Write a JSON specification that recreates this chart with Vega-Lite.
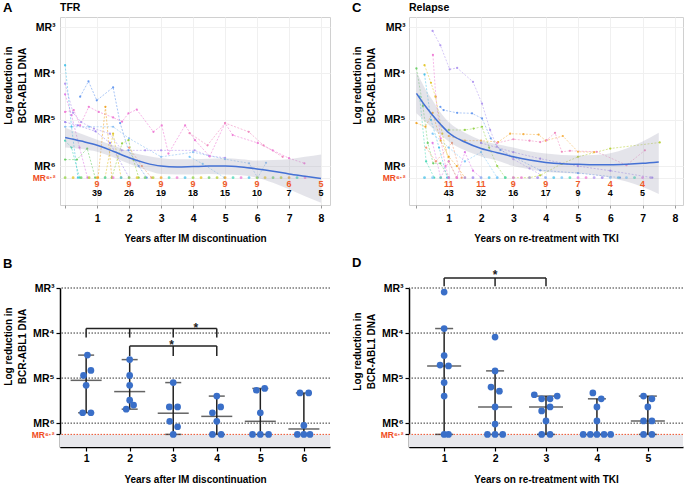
{
  "$schema": "https://vega.github.io/schema/vega-lite/v6.json",
  "padding": {"left": 2, "top": 1, "right": 0, "bottom": 0},
  "background": "white",
  "columns": 2,
  "spacing": {"row": 83, "column": 79},
  "bounds": "flush",
  "align": "each",
  "config": {
    "font": "Liberation Sans",
    "view": {"stroke": null},
    "axis": {"labelFont": "Liberation Sans", "labelFontWeight": "bold", "labelFontSize": 10.5, "labelColor": "black", "titleFont": "Liberation Sans", "titleFontWeight": "bold", "titleFontSize": 10, "titleColor": "black", "labelOverlap": false},
    "title": {"font": "Liberation Sans", "fontWeight": "bold", "fontSize": 13, "anchor": "start", "frame": "bounds", "color": "black", "baseline": "alphabetic"},
    "text": {"font": "Liberation Sans"}
  },
  "datasets": {
    "spagA": [
      {"pid": "p1", "x": 0, "y": 3.82}, {"pid": "p1", "x": 0.2, "y": 5.15}, {"pid": "p1", "x": 0.4, "y": 6.25},
      {"pid": "p2", "x": 0, "y": 4.22}, {"pid": "p2", "x": 0.25, "y": 4.85}, {"pid": "p2", "x": 0.5, "y": 5.05}, {"pid": "p2", "x": 0.9, "y": 5.19}, {"pid": "p2", "x": 1.4, "y": 5.3}, {"pid": "p2", "x": 1.77, "y": 5.66}, {"pid": "p2", "x": 2.5, "y": 5.66}, {"pid": "p2", "x": 3.0, "y": 5.66}, {"pid": "p2", "x": 4.05, "y": 5.66}, {"pid": "p2", "x": 4.5, "y": 5.78}, {"pid": "p2", "x": 5.0, "y": 5.82},
      {"pid": "p3", "x": 0.47, "y": 4.5}, {"pid": "p3", "x": 0.73, "y": 4.17}, {"pid": "p3", "x": 0.99, "y": 4.58}, {"pid": "p3", "x": 1.5, "y": 4.3}, {"pid": "p3", "x": 1.72, "y": 5.07}, {"pid": "p3", "x": 1.98, "y": 5.66}, {"pid": "p3", "x": 2.3, "y": 6.0}, {"pid": "p3", "x": 2.55, "y": 6.25},
      {"pid": "p4", "x": 0, "y": 5.15}, {"pid": "p4", "x": 0.75, "y": 5.15}, {"pid": "p4", "x": 1.5, "y": 5.15}, {"pid": "p4", "x": 2.0, "y": 5.4}, {"pid": "p4", "x": 3.0, "y": 5.8}, {"pid": "p4", "x": 4.0, "y": 5.7}, {"pid": "p4", "x": 5.0, "y": 5.85}, {"pid": "p4", "x": 5.75, "y": 5.94}, {"pid": "p4", "x": 6.02, "y": 6.25}, {"pid": "p4", "x": 6.28, "y": 5.93},
      {"pid": "p5", "x": 0, "y": 4.83}, {"pid": "p5", "x": 0.27, "y": 4.79}, {"pid": "p5", "x": 0.47, "y": 5.12}, {"pid": "p5", "x": 0.74, "y": 4.72}, {"pid": "p5", "x": 1.05, "y": 4.83}, {"pid": "p5", "x": 1.5, "y": 4.95}, {"pid": "p5", "x": 1.78, "y": 5.04}, {"pid": "p5", "x": 1.98, "y": 4.86}, {"pid": "p5", "x": 2.24, "y": 4.78}, {"pid": "p5", "x": 2.76, "y": 5.26}, {"pid": "p5", "x": 3.02, "y": 5.12}, {"pid": "p5", "x": 3.23, "y": 5.73}, {"pid": "p5", "x": 3.75, "y": 5.12}, {"pid": "p5", "x": 4.06, "y": 5.44}, {"pid": "p5", "x": 4.52, "y": 5.79}, {"pid": "p5", "x": 5.0, "y": 5.07}, {"pid": "p5", "x": 5.24, "y": 5.33}, {"pid": "p5", "x": 6.02, "y": 5.5}, {"pid": "p5", "x": 6.49, "y": 5.66}, {"pid": "p5", "x": 7.0, "y": 5.83}, {"pid": "p5", "x": 7.48, "y": 5.94},
      {"pid": "p6", "x": 3.89, "y": 5.29}, {"pid": "p6", "x": 4.45, "y": 5.55}, {"pid": "p6", "x": 5.0, "y": 5.07}, {"pid": "p6", "x": 5.74, "y": 5.26}, {"pid": "p6", "x": 6.2, "y": 5.55}, {"pid": "p6", "x": 6.8, "y": 5.8},
      {"pid": "p7", "x": 1.03, "y": 6.25}, {"pid": "p7", "x": 1.26, "y": 4.72}, {"pid": "p7", "x": 1.46, "y": 6.25},
      {"pid": "p8", "x": 1.25, "y": 6.25}, {"pid": "p8", "x": 1.5, "y": 5.3}, {"pid": "p8", "x": 1.75, "y": 6.25},
      {"pid": "p9", "x": 0, "y": 5.86}, {"pid": "p9", "x": 0.37, "y": 5.86}, {"pid": "p9", "x": 0.69, "y": 5.62}, {"pid": "p9", "x": 0.94, "y": 6.25},
      {"pid": "p10", "x": 1.46, "y": 6.25}, {"pid": "p10", "x": 1.78, "y": 5.51}, {"pid": "p10", "x": 1.98, "y": 5.44}, {"pid": "p10", "x": 2.14, "y": 5.87}, {"pid": "p10", "x": 2.3, "y": 6.25},
      {"pid": "p11", "x": 0, "y": 5.45}, {"pid": "p11", "x": 0.2, "y": 5.6}, {"pid": "p11", "x": 0.45, "y": 6.25},
      {"pid": "p12", "x": 0, "y": 5.05}, {"pid": "p12", "x": 0.4, "y": 5.12}, {"pid": "p12", "x": 0.95, "y": 5.25}, {"pid": "p12", "x": 1.4, "y": 5.5}, {"pid": "p12", "x": 2.0, "y": 6.25},
      {"pid": "p13", "x": 0, "y": 4.45}, {"pid": "p13", "x": 0.2, "y": 4.9}, {"pid": "p13", "x": 0.45, "y": 5.6}, {"pid": "p13", "x": 0.7, "y": 6.25},
      {"pid": "p14", "x": 2.0, "y": 5.6}, {"pid": "p14", "x": 2.4, "y": 6.0}, {"pid": "p14", "x": 2.7, "y": 6.25},
      {"pid": "p15", "x": 3.89, "y": 5.8}, {"pid": "p15", "x": 4.3, "y": 5.95}, {"pid": "p15", "x": 4.98, "y": 6.25}
    ],
    "baseA": [
      {"pid": "p10", "x": 0}, {"pid": "p8", "x": 0.25}, {"pid": "p9", "x": 0.5}, {"pid": "p16", "x": 0.75}, {"pid": "p7", "x": 1}, {"pid": "p11", "x": 1.25}, {"pid": "p5", "x": 1.5}, {"pid": "p1", "x": 1.75},
      {"pid": "p10", "x": 2}, {"pid": "p8", "x": 2.25}, {"pid": "p9", "x": 2.5}, {"pid": "p16", "x": 2.75}, {"pid": "p7", "x": 3}, {"pid": "p11", "x": 3.25}, {"pid": "p5", "x": 3.5}, {"pid": "p1", "x": 3.75},
      {"pid": "p10", "x": 4}, {"pid": "p8", "x": 4.25}, {"pid": "p9", "x": 4.5}, {"pid": "p16", "x": 4.75}, {"pid": "p7", "x": 5}, {"pid": "p11", "x": 5.25}, {"pid": "p5", "x": 5.5}, {"pid": "p1", "x": 5.75},
      {"pid": "p10", "x": 6}, {"pid": "p8", "x": 6.25}, {"pid": "p9", "x": 6.5}, {"pid": "p16", "x": 6.75}, {"pid": "p7", "x": 7}, {"pid": "p11", "x": 7.25}, {"pid": "p5", "x": 7.5}
    ],
    "loessA": [
      {"x": 0, "fit": 5.38, "lo": 5.17, "hi": 5.6}, {"x": 0.5, "fit": 5.46, "lo": 5.3, "hi": 5.63}, {"x": 1, "fit": 5.55, "lo": 5.43, "hi": 5.69}, {"x": 1.5, "fit": 5.68, "lo": 5.55, "hi": 5.81}, {"x": 2, "fit": 5.82, "lo": 5.69, "hi": 5.95}, {"x": 2.5, "fit": 5.93, "lo": 5.77, "hi": 6.08}, {"x": 3, "fit": 6.0, "lo": 5.83, "hi": 6.17}, {"x": 3.5, "fit": 6.02, "lo": 5.85, "hi": 6.18}, {"x": 4, "fit": 6.01, "lo": 5.85, "hi": 6.18}, {"x": 4.5, "fit": 6.0, "lo": 5.84, "hi": 6.17}, {"x": 5, "fit": 6.0, "lo": 5.83, "hi": 6.18}, {"x": 5.5, "fit": 6.02, "lo": 5.85, "hi": 6.2}, {"x": 6, "fit": 6.06, "lo": 5.88, "hi": 6.25}, {"x": 6.5, "fit": 6.11, "lo": 5.87, "hi": 6.36}, {"x": 7, "fit": 6.17, "lo": 5.85, "hi": 6.5}, {"x": 7.5, "fit": 6.22, "lo": 5.8, "hi": 6.65}, {"x": 8, "fit": 6.27, "lo": 5.75, "hi": 6.79}
    ],
    "countsA": [
      {"year": 1, "events": 9, "n": 39}, {"year": 2, "events": 9, "n": 26}, {"year": 3, "events": 9, "n": 19}, {"year": 4, "events": 9, "n": 18}, {"year": 5, "events": 9, "n": 15}, {"year": 6, "events": 9, "n": 10}, {"year": 7, "events": 6, "n": 7}, {"year": 8, "events": 5, "n": 5}
    ],
    "spagC": [
      {"pid": "p2", "x": 0.5, "y": 3.08}, {"pid": "p2", "x": 0.74, "y": 3.39}, {"pid": "p2", "x": 1.03, "y": 3.91}, {"pid": "p2", "x": 1.26, "y": 3.88}, {"pid": "p2", "x": 1.75, "y": 4.18}, {"pid": "p2", "x": 2.03, "y": 4.65}, {"pid": "p2", "x": 2.28, "y": 5.22}, {"pid": "p2", "x": 2.49, "y": 5.58}, {"pid": "p2", "x": 3.0, "y": 5.85}, {"pid": "p2", "x": 3.5, "y": 6.05}, {"pid": "p2", "x": 4.0, "y": 6.25},
      {"pid": "p5", "x": 0.51, "y": 3.6}, {"pid": "p5", "x": 0.6, "y": 4.5}, {"pid": "p5", "x": 0.75, "y": 5.4}, {"pid": "p5", "x": 0.9, "y": 6.0}, {"pid": "p5", "x": 1.0, "y": 6.25},
      {"pid": "p9", "x": 0, "y": 3.89}, {"pid": "p9", "x": 0.2, "y": 4.7}, {"pid": "p9", "x": 0.35, "y": 5.5}, {"pid": "p9", "x": 0.52, "y": 5.94}, {"pid": "p9", "x": 0.74, "y": 5.94}, {"pid": "p9", "x": 1.0, "y": 6.25},
      {"pid": "p8", "x": 0.25, "y": 3.82}, {"pid": "p8", "x": 0.45, "y": 4.2}, {"pid": "p8", "x": 0.59, "y": 4.5}, {"pid": "p8", "x": 0.8, "y": 5.3}, {"pid": "p8", "x": 1.0, "y": 5.9}, {"pid": "p8", "x": 1.25, "y": 6.25},
      {"pid": "p1", "x": 0.25, "y": 4.02}, {"pid": "p1", "x": 0.45, "y": 5.0}, {"pid": "p1", "x": 0.7, "y": 5.6}, {"pid": "p1", "x": 0.95, "y": 6.25},
      {"pid": "p7", "x": 0, "y": 5.07}, {"pid": "p7", "x": 0.28, "y": 5.15}, {"pid": "p7", "x": 0.5, "y": 4.85}, {"pid": "p7", "x": 0.75, "y": 5.45}, {"pid": "p7", "x": 1.0, "y": 5.8}, {"pid": "p7", "x": 1.25, "y": 6.0}, {"pid": "p7", "x": 1.5, "y": 6.25},
      {"pid": "p3", "x": 0.74, "y": 4.72}, {"pid": "p3", "x": 0.84, "y": 4.79}, {"pid": "p3", "x": 1.26, "y": 4.85}, {"pid": "p3", "x": 1.72, "y": 4.86}, {"pid": "p3", "x": 2.03, "y": 4.97}, {"pid": "p3", "x": 2.3, "y": 5.4}, {"pid": "p3", "x": 2.6, "y": 5.65}, {"pid": "p3", "x": 3.0, "y": 5.8}, {"pid": "p3", "x": 3.83, "y": 6.09}, {"pid": "p3", "x": 5.0, "y": 6.15}, {"pid": "p3", "x": 6.3, "y": 6.25},
      {"pid": "p10", "x": 1.0, "y": 5.22}, {"pid": "p10", "x": 1.5, "y": 5.22}, {"pid": "p10", "x": 1.77, "y": 5.19}, {"pid": "p10", "x": 2.03, "y": 5.15}, {"pid": "p10", "x": 2.25, "y": 5.6}, {"pid": "p10", "x": 2.5, "y": 6.0}, {"pid": "p10", "x": 2.75, "y": 6.25},
      {"pid": "p17", "x": 1.0, "y": 5.35}, {"pid": "p17", "x": 1.5, "y": 5.45}, {"pid": "p17", "x": 2.0, "y": 5.45}, {"pid": "p17", "x": 2.53, "y": 5.48}, {"pid": "p17", "x": 2.9, "y": 5.3}, {"pid": "p17", "x": 3.31, "y": 5.31}, {"pid": "p17", "x": 3.78, "y": 5.32}, {"pid": "p17", "x": 4.0, "y": 5.45}, {"pid": "p17", "x": 4.53, "y": 5.35}, {"pid": "p17", "x": 5.0, "y": 5.69}, {"pid": "p17", "x": 5.5, "y": 5.7},
      {"pid": "p6", "x": 2.5, "y": 5.5}, {"pid": "p6", "x": 3.0, "y": 5.42}, {"pid": "p6", "x": 3.5, "y": 5.45}, {"pid": "p6", "x": 3.83, "y": 5.48}, {"pid": "p6", "x": 4.03, "y": 5.44}, {"pid": "p6", "x": 4.29, "y": 5.28}, {"pid": "p6", "x": 4.5, "y": 5.69}, {"pid": "p6", "x": 4.75, "y": 5.67}, {"pid": "p6", "x": 5.58, "y": 5.69}, {"pid": "p6", "x": 6.5, "y": 5.98}, {"pid": "p6", "x": 7.07, "y": 5.66},
      {"pid": "p16", "x": 3.0, "y": 6.25}, {"pid": "p16", "x": 3.5, "y": 6.25}, {"pid": "p16", "x": 3.83, "y": 6.2}, {"pid": "p16", "x": 4.5, "y": 5.95}, {"pid": "p16", "x": 5.0, "y": 5.8}, {"pid": "p16", "x": 6.0, "y": 5.62}, {"pid": "p16", "x": 7.53, "y": 5.49},
      {"pid": "p12", "x": 2.0, "y": 5.5}, {"pid": "p12", "x": 3.0, "y": 5.7}, {"pid": "p12", "x": 3.83, "y": 5.84}, {"pid": "p12", "x": 5.0, "y": 6.0}, {"pid": "p12", "x": 6.0, "y": 6.1}, {"pid": "p12", "x": 7.3, "y": 6.25},
      {"pid": "p13", "x": 0.5, "y": 5.5}, {"pid": "p13", "x": 0.75, "y": 6.25}, {"pid": "p13", "x": 1.0, "y": 5.9}, {"pid": "p13", "x": 1.25, "y": 6.25}, {"pid": "p13", "x": 1.5, "y": 5.7}, {"pid": "p13", "x": 1.75, "y": 6.1}, {"pid": "p13", "x": 2.0, "y": 6.25},
      {"pid": "p11", "x": 0.1, "y": 4.5}, {"pid": "p11", "x": 0.3, "y": 5.9}, {"pid": "p11", "x": 0.55, "y": 6.25},
      {"pid": "p15", "x": 0.5, "y": 5.3}, {"pid": "p15", "x": 1.0, "y": 5.6}, {"pid": "p15", "x": 1.5, "y": 5.9}, {"pid": "p15", "x": 2.0, "y": 5.7}, {"pid": "p15", "x": 2.5, "y": 6.25},
      {"pid": "p14", "x": 0.3, "y": 5.6}, {"pid": "p14", "x": 0.6, "y": 5.9}, {"pid": "p14", "x": 1.1, "y": 5.5}, {"pid": "p14", "x": 1.4, "y": 6.25}
    ],
    "baseC": [
      {"pid": "p1", "x": 0.25}, {"pid": "p15", "x": 0.5}, {"pid": "p11", "x": 0.75}, {"pid": "p13", "x": 1}, {"pid": "p5", "x": 1.25}, {"pid": "p2", "x": 1.5}, {"pid": "p12", "x": 1.75}, {"pid": "p4", "x": 2},
      {"pid": "p1", "x": 2.25}, {"pid": "p15", "x": 2.5}, {"pid": "p11", "x": 2.75}, {"pid": "p13", "x": 3}, {"pid": "p5", "x": 3.25}, {"pid": "p2", "x": 3.5}, {"pid": "p12", "x": 3.75}, {"pid": "p4", "x": 4},
      {"pid": "p1", "x": 4.25}, {"pid": "p15", "x": 4.5}, {"pid": "p11", "x": 4.75}, {"pid": "p13", "x": 5}, {"pid": "p5", "x": 5.25}, {"pid": "p2", "x": 5.5}, {"pid": "p12", "x": 5.75}, {"pid": "p4", "x": 6},
      {"pid": "p1", "x": 6.25}, {"pid": "p15", "x": 6.5}, {"pid": "p11", "x": 6.75}, {"pid": "p13", "x": 7}, {"pid": "p2", "x": 7.25}
    ],
    "loessC": [
      {"x": 0, "fit": 4.43, "lo": 3.97, "hi": 4.86}, {"x": 0.25, "fit": 4.68, "lo": 4.3, "hi": 5.02}, {"x": 0.5, "fit": 4.9, "lo": 4.58, "hi": 5.18}, {"x": 0.75, "fit": 5.1, "lo": 4.85, "hi": 5.33}, {"x": 1, "fit": 5.28, "lo": 5.05, "hi": 5.47}, {"x": 1.5, "fit": 5.48, "lo": 5.28, "hi": 5.66}, {"x": 2, "fit": 5.62, "lo": 5.44, "hi": 5.79}, {"x": 2.5, "fit": 5.71, "lo": 5.53, "hi": 5.88}, {"x": 3, "fit": 5.8, "lo": 5.6, "hi": 6.0}, {"x": 3.5, "fit": 5.87, "lo": 5.68, "hi": 6.07}, {"x": 4, "fit": 5.92, "lo": 5.73, "hi": 6.13}, {"x": 4.5, "fit": 5.95, "lo": 5.76, "hi": 6.15}, {"x": 5, "fit": 5.96, "lo": 5.77, "hi": 6.16}, {"x": 5.5, "fit": 5.97, "lo": 5.76, "hi": 6.19}, {"x": 6, "fit": 5.97, "lo": 5.72, "hi": 6.25}, {"x": 6.5, "fit": 5.96, "lo": 5.62, "hi": 6.33}, {"x": 7, "fit": 5.94, "lo": 5.47, "hi": 6.45}, {"x": 7.5, "fit": 5.91, "lo": 5.28, "hi": 6.6}
    ],
    "countsC": [
      {"year": 1, "events": 11, "n": 43}, {"year": 2, "events": 11, "n": 32}, {"year": 3, "events": 9, "n": 16}, {"year": 4, "events": 9, "n": 17}, {"year": 5, "events": 7, "n": 9}, {"year": 6, "events": 4, "n": 4}, {"year": 7, "events": 4, "n": 5}
    ],
    "levels": [{"mr": 3}, {"mr": 4}, {"mr": 5}, {"mr": 6}],
    "ptsB": [
      {"year": 1, "x": 1.03, "mr": 4.49}, {"year": 1, "x": 1.11, "mr": 4.83}, {"year": 1, "x": 0.94, "mr": 4.94}, {"year": 1, "x": 1.0, "mr": 5.16}, {"year": 1, "x": 0.92, "mr": 5.77}, {"year": 1, "x": 1.11, "mr": 5.77},
      {"year": 2, "x": 2.0, "mr": 4.59}, {"year": 2, "x": 2.0, "mr": 4.94}, {"year": 2, "x": 2.0, "mr": 5.16}, {"year": 2, "x": 2.0, "mr": 5.49}, {"year": 2, "x": 2.09, "mr": 5.6}, {"year": 2, "x": 1.92, "mr": 5.69},
      {"year": 3, "x": 3.0, "mr": 5.1}, {"year": 3, "x": 2.91, "mr": 5.64}, {"year": 3, "x": 3.1, "mr": 5.64}, {"year": 3, "x": 2.92, "mr": 5.96}, {"year": 3, "x": 3.1, "mr": 6.08}, {"year": 3, "x": 3.0, "mr": 6.25},
      {"year": 4, "x": 4.0, "mr": 5.4}, {"year": 4, "x": 4.09, "mr": 5.64}, {"year": 4, "x": 3.9, "mr": 5.77}, {"year": 4, "x": 4.0, "mr": 5.96}, {"year": 4, "x": 3.9, "mr": 6.25}, {"year": 4, "x": 4.1, "mr": 6.25},
      {"year": 5, "x": 4.91, "mr": 5.27}, {"year": 5, "x": 5.1, "mr": 5.23}, {"year": 5, "x": 5.0, "mr": 5.77}, {"year": 5, "x": 4.82, "mr": 6.25}, {"year": 5, "x": 5.0, "mr": 6.25}, {"year": 5, "x": 5.19, "mr": 6.25},
      {"year": 6, "x": 5.91, "mr": 5.33}, {"year": 6, "x": 6.11, "mr": 5.33}, {"year": 6, "x": 6.0, "mr": 6.05}, {"year": 6, "x": 5.85, "mr": 6.25}, {"year": 6, "x": 6.0, "mr": 6.25}, {"year": 6, "x": 6.14, "mr": 6.25}
    ],
    "errB": [
      {"year": 1, "hi": 4.49, "lo": 5.77, "med": 5.05}, {"year": 2, "hi": 4.59, "lo": 5.69, "med": 5.3}, {"year": 3, "hi": 5.1, "lo": 6.25, "med": 5.78}, {"year": 4, "hi": 5.4, "lo": 6.25, "med": 5.85}, {"year": 5, "hi": 5.23, "lo": 6.25, "med": 5.96}, {"year": 6, "hi": 5.33, "lo": 6.25, "med": 6.13}
    ],
    "bracketB": [
      {"x": 1, "x2": 4, "y": 3.9, "y2": 3.9}, {"x": 1, "x2": 1, "y": 3.9, "y2": 4.1}, {"x": 2, "x2": 2, "y": 3.9, "y2": 4.1}, {"x": 3, "x2": 3, "y": 3.9, "y2": 4.1}, {"x": 4, "x2": 4, "y": 3.9, "y2": 4.1},
      {"x": 2, "x2": 4, "y": 4.29, "y2": 4.29}, {"x": 2, "x2": 2, "y": 4.29, "y2": 4.51}, {"x": 3, "x2": 3, "y": 4.29, "y2": 4.51}, {"x": 4, "x2": 4, "y": 4.29, "y2": 4.51}
    ],
    "starsB": [{"x": 3.52, "y": 3.97, "s": "*"}, {"x": 2.96, "y": 4.35, "s": "*"}],
    "ptsD": [
      {"year": 1, "x": 1.0, "mr": 3.09}, {"year": 1, "x": 1.0, "mr": 3.9}, {"year": 1, "x": 1.0, "mr": 4.5}, {"year": 1, "x": 0.92, "mr": 4.71}, {"year": 1, "x": 1.085, "mr": 4.73}, {"year": 1, "x": 1.0, "mr": 5.1}, {"year": 1, "x": 1.0, "mr": 5.4}, {"year": 1, "x": 1.0, "mr": 6.25}, {"year": 1, "x": 1.085, "mr": 6.25},
      {"year": 2, "x": 2.0, "mr": 4.09}, {"year": 2, "x": 2.0, "mr": 4.84}, {"year": 2, "x": 1.92, "mr": 5.2}, {"year": 2, "x": 2.085, "mr": 5.29}, {"year": 2, "x": 2.0, "mr": 5.64}, {"year": 2, "x": 2.0, "mr": 6.02}, {"year": 2, "x": 1.85, "mr": 6.25}, {"year": 2, "x": 2.0, "mr": 6.25}, {"year": 2, "x": 2.15, "mr": 6.25},
      {"year": 3, "x": 2.77, "mr": 5.37}, {"year": 3, "x": 3.22, "mr": 5.4}, {"year": 3, "x": 2.915, "mr": 5.46}, {"year": 3, "x": 3.08, "mr": 5.46}, {"year": 3, "x": 3.08, "mr": 5.64}, {"year": 3, "x": 2.915, "mr": 5.73}, {"year": 3, "x": 3.0, "mr": 5.95}, {"year": 3, "x": 2.915, "mr": 6.25}, {"year": 3, "x": 3.08, "mr": 6.25},
      {"year": 4, "x": 3.92, "mr": 5.33}, {"year": 4, "x": 4.085, "mr": 5.46}, {"year": 4, "x": 4.0, "mr": 5.64}, {"year": 4, "x": 4.0, "mr": 5.95}, {"year": 4, "x": 3.73, "mr": 6.25}, {"year": 4, "x": 3.87, "mr": 6.25}, {"year": 4, "x": 4.0, "mr": 6.25}, {"year": 4, "x": 4.14, "mr": 6.25}, {"year": 4, "x": 4.27, "mr": 6.25},
      {"year": 5, "x": 4.915, "mr": 5.4}, {"year": 5, "x": 5.08, "mr": 5.46}, {"year": 5, "x": 5.0, "mr": 5.64}, {"year": 5, "x": 4.915, "mr": 5.95}, {"year": 5, "x": 5.08, "mr": 5.95}, {"year": 5, "x": 4.915, "mr": 6.25}, {"year": 5, "x": 5.08, "mr": 6.25}
    ],
    "errD": [
      {"year": 1, "hi": 3.9, "lo": 6.25, "med": 4.73}, {"year": 2, "hi": 4.84, "lo": 6.25, "med": 5.64}, {"year": 3, "hi": 5.4, "lo": 6.25, "med": 5.64}, {"year": 4, "hi": 5.46, "lo": 6.25, "med": 6.25}, {"year": 5, "hi": 5.4, "lo": 6.25, "med": 5.95}
    ],
    "bracketD": [
      {"x": 1, "x2": 3, "y": 2.78, "y2": 2.78}, {"x": 1, "x2": 1, "y": 2.78, "y2": 2.96}, {"x": 2, "x2": 2, "y": 2.78, "y2": 2.96}, {"x": 3, "x2": 3, "y": 2.78, "y2": 2.96}
    ],
    "starsD": [{"x": 2, "y": 2.8, "s": "*"}]
  },
  "concat": [
    {
      "width": 270, "height": 188,
      "view": {"stroke": "#d0d0d0"},
      "title": {"text": "A", "offset": -12.5},
      "layer": [
        {
          "data": {"name": "spagA"},
          "mark": {"type": "line", "strokeDash": [2, 1.5], "strokeWidth": 0.9, "opacity": 0.65, "point": {"filled": true, "size": 5}},
          "encoding": {
            "x": {"field": "x", "type": "quantitative", "scale": {"domain": [-0.16, 8.28], "nice": false, "zero": false},
              "axis": {"values": [0, 1, 2, 3, 4, 5, 6, 7, 8], "tickCount": 20, "format": "d", "labelExpr": "datum.value == 0 ? '' : datum.label", "labelOverlap": false, "labelFlush": false, "tickSize": 3, "tickColor": "#999999", "labelPadding": 5, "domain": false, "grid": true, "gridColor": "#f0f0f0", "title": "Years after IM discontinuation", "titlePadding": 10}},
            "y": {"field": "y", "type": "quantitative", "scale": {"domain": [2.78, 6.84], "nice": false, "zero": false, "reverse": true},
              "axis": {"values": [3, 4, 5, 6, 6.25], "tickCount": 20, "labelExpr": "datum.value == 3 ? 'MR³' : datum.value == 4 ? 'MR⁴' : datum.value == 5 ? 'MR⁵' : datum.value == 6 ? 'MR⁶' : 'MR⁶·²'", "labelColor": {"condition": {"test": "datum.value > 6.1", "value": "#f04e23"}, "value": "black"}, "labelFontSize": {"condition": {"test": "datum.value > 6.1", "value": 8.5}, "value": 10.5}, "labelOverlap": false, "labelPadding": 5, "ticks": false, "domain": false, "grid": true, "gridColor": "#f0f0f0", "minExtent": 28, "maxExtent": 28, "title": ["Log reduction in", "BCR-ABL1 DNA"], "titlePadding": 5, "titleY": 68, "titleLineHeight": 14}},
            "color": {"field": "pid", "type": "nominal", "scale": {"domain": ["p1", "p2", "p3", "p4", "p5", "p6", "p7", "p8", "p9", "p10", "p11", "p12", "p13", "p14", "p15", "p16", "p17"], "range": ["#4fc3e8", "#b39af0", "#6a9cf0", "#8cc0f2", "#ef7fd6", "#f08cc0", "#f0a830", "#e3c730", "#6fcf6a", "#97d44e", "#4fd9b8", "#9f86ee", "#df7fe6", "#f29a78", "#7fc8f8", "#b8d03a", "#f5b24a"]}, "legend": null}
          }
        },
        {
          "data": {"name": "baseA"},
          "mark": {"type": "circle", "size": 8, "opacity": 0.8},
          "encoding": {"x": {"field": "x", "type": "quantitative"}, "y": {"datum": 6.25}, "color": {"field": "pid", "type": "nominal", "legend": null}}
        },
        {
          "data": {"name": "loessA"},
          "mark": {"type": "area", "color": "#a4a4b8", "opacity": 0.3, "interpolate": "monotone"},
          "encoding": {"x": {"field": "x", "type": "quantitative"}, "y": {"field": "lo", "type": "quantitative"}, "y2": {"field": "hi"}}
        },
        {
          "data": {"name": "loessA"},
          "mark": {"type": "line", "color": "#4471d4", "strokeWidth": 1.5, "interpolate": "monotone"},
          "encoding": {"x": {"field": "x", "type": "quantitative"}, "y": {"field": "fit", "type": "quantitative"}}
        },
        {
          "data": {"name": "countsA"},
          "mark": {"type": "text", "fontSize": 9, "fontWeight": "bold", "color": "#f05a28"},
          "encoding": {"x": {"field": "year", "type": "quantitative"}, "y": {"datum": 6.38}, "text": {"field": "events"}}
        },
        {
          "data": {"name": "countsA"},
          "mark": {"type": "text", "fontSize": 9, "fontWeight": "bold", "color": "black"},
          "encoding": {"x": {"field": "year", "type": "quantitative"}, "y": {"datum": 6.59}, "text": {"field": "n"}}
        },
        {
          "data": {"values": [{"t": "TFR"}]},
          "mark": {"type": "text", "fontSize": 10.5, "fontWeight": "bold", "align": "left", "baseline": "alphabetic", "color": "black"},
          "encoding": {"x": {"datum": -0.16}, "y": {"datum": 2.648}, "text": {"field": "t"}}
        }
      ]
    },
    {
      "width": 274, "height": 188,
      "view": {"stroke": "#d0d0d0"},
      "title": {"text": "C", "offset": -12.5},
      "layer": [
        {
          "data": {"name": "spagC"},
          "mark": {"type": "line", "strokeDash": [2, 1.5], "strokeWidth": 0.9, "opacity": 0.6, "point": {"filled": true, "size": 5}},
          "encoding": {
            "x": {"field": "x", "type": "quantitative", "scale": {"domain": [-0.23, 8.25], "nice": false, "zero": false},
              "axis": {"values": [0, 1, 2, 3, 4, 5, 6, 7, 8], "tickCount": 20, "format": "d", "labelExpr": "datum.value == 0 ? '' : datum.label", "labelOverlap": false, "labelFlush": false, "tickSize": 3, "tickColor": "#999999", "labelPadding": 5, "domain": false, "grid": true, "gridColor": "#f0f0f0", "title": "Years on re-treatment  with TKI", "titlePadding": 10}},
            "y": {"field": "y", "type": "quantitative", "scale": {"domain": [2.78, 6.84], "nice": false, "zero": false, "reverse": true},
              "axis": {"values": [3, 4, 5, 6, 6.25], "tickCount": 20, "labelExpr": "datum.value == 3 ? 'MR³' : datum.value == 4 ? 'MR⁴' : datum.value == 5 ? 'MR⁵' : datum.value == 6 ? 'MR⁶' : 'MR⁶·²'", "labelColor": {"condition": {"test": "datum.value > 6.1", "value": "#f04e23"}, "value": "black"}, "labelFontSize": {"condition": {"test": "datum.value > 6.1", "value": 8.5}, "value": 10.5}, "labelOverlap": false, "labelPadding": 4, "ticks": false, "domain": false, "grid": true, "gridColor": "#f0f0f0", "minExtent": 28, "maxExtent": 28, "title": ["Log reduction in", "BCR-ABL1 DNA"], "titlePadding": 5, "titleY": 68, "titleLineHeight": 14}},
            "color": {"field": "pid", "type": "nominal", "scale": {"domain": ["p1", "p2", "p3", "p4", "p5", "p6", "p7", "p8", "p9", "p10", "p11", "p12", "p13", "p14", "p15", "p16", "p17"], "range": ["#4fc3e8", "#b39af0", "#6a9cf0", "#8cc0f2", "#ef7fd6", "#f08cc0", "#f0a830", "#e3c730", "#6fcf6a", "#97d44e", "#4fd9b8", "#9f86ee", "#df7fe6", "#f29a78", "#7fc8f8", "#b8d03a", "#f5b24a"]}, "legend": null}
          }
        },
        {
          "data": {"name": "baseC"},
          "mark": {"type": "circle", "size": 8, "opacity": 0.8},
          "encoding": {"x": {"field": "x", "type": "quantitative"}, "y": {"datum": 6.25}, "color": {"field": "pid", "type": "nominal", "legend": null}}
        },
        {
          "data": {"name": "loessC"},
          "mark": {"type": "area", "color": "#a4a4b8", "opacity": 0.3, "interpolate": "monotone"},
          "encoding": {"x": {"field": "x", "type": "quantitative"}, "y": {"field": "lo", "type": "quantitative"}, "y2": {"field": "hi"}}
        },
        {
          "data": {"name": "loessC"},
          "mark": {"type": "line", "color": "#4471d4", "strokeWidth": 1.5, "interpolate": "monotone"},
          "encoding": {"x": {"field": "x", "type": "quantitative"}, "y": {"field": "fit", "type": "quantitative"}}
        },
        {
          "data": {"name": "countsC"},
          "mark": {"type": "text", "fontSize": 9, "fontWeight": "bold", "color": "#f05a28"},
          "encoding": {"x": {"field": "year", "type": "quantitative"}, "y": {"datum": 6.38}, "text": {"field": "events"}}
        },
        {
          "data": {"name": "countsC"},
          "mark": {"type": "text", "fontSize": 9, "fontWeight": "bold", "color": "black"},
          "encoding": {"x": {"field": "year", "type": "quantitative"}, "y": {"datum": 6.59}, "text": {"field": "n"}}
        },
        {
          "data": {"values": [{"t": "Relapse"}]},
          "mark": {"type": "text", "fontSize": 10.5, "fontWeight": "bold", "align": "left", "baseline": "alphabetic", "color": "black"},
          "encoding": {"x": {"datum": -0.23}, "y": {"datum": 2.648}, "text": {"field": "t"}}
        }
      ]
    },
    {
      "width": 270, "height": 159,
      "title": {"text": "B", "offset": 12},
      "layer": [
        {
          "data": {"values": [{}]},
          "mark": {"type": "rect", "color": "#e8e8ec"},
          "encoding": {"x": {"datum": 0.4}, "x2": {"datum": 6.6}, "y": {"datum": 6.25}, "y2": {"datum": 6.53}}
        },
        {
          "data": {"name": "levels"},
          "mark": {"type": "rule", "strokeDash": [1.5, 1.5], "color": "#333333", "strokeWidth": 1},
          "encoding": {"y": {"field": "mr", "type": "quantitative", "scale": {"domain": [3, 6.53], "nice": false, "zero": false, "reverse": true},
              "axis": {"values": [3, 4, 5, 6, 6.25], "tickCount": 20, "labelExpr": "datum.value == 3 ? 'MR³' : datum.value == 4 ? 'MR⁴' : datum.value == 5 ? 'MR⁵' : datum.value == 6 ? 'MR⁶' : 'MR⁶·²'", "labelColor": {"condition": {"test": "datum.value > 6.1", "value": "#f04e23"}, "value": "black"}, "labelFontSize": {"condition": {"test": "datum.value > 6.1", "value": 8.5}, "value": 10.5}, "labelOverlap": false, "labelPadding": 2, "ticks": true, "tickSize": 4, "tickColor": "black", "tickWidth": 1.2, "domainColor": "black", "domainWidth": 1.5, "grid": false, "minExtent": 28, "maxExtent": 28, "title": ["Log reduction in", "BCR-ABL1 DNA"], "titlePadding": 5, "titleY": 58, "titleLineHeight": 14}}}
        },
        {
          "data": {"values": [{}]},
          "mark": {"type": "rule", "strokeDash": [1.5, 1.5], "color": "#f0502a", "strokeWidth": 1},
          "encoding": {"y": {"datum": 6.25}}
        },
        {
          "data": {"name": "errB"},
          "mark": {"type": "rule", "color": "#222222", "strokeWidth": 1.5},
          "encoding": {"x": {"field": "year", "type": "quantitative", "scale": {"domain": [0.4, 6.6], "nice": false, "zero": false},
              "axis": {"values": [1, 2, 3, 4, 5, 6], "tickCount": 20, "format": "d", "labelOverlap": false, "labelFlush": false, "tickSize": 4, "tickColor": "black", "tickWidth": 1.2, "domainColor": "black", "domainWidth": 1.5, "labelPadding": 2, "grid": false, "title": "Years after IM discontinuation", "titlePadding": 11}},
            "y": {"field": "hi", "type": "quantitative"}, "y2": {"field": "lo"}}
        },
        {
          "data": {"name": "errB"},
          "mark": {"type": "tick", "orient": "horizontal", "size": 16, "thickness": 1.5, "color": "#222222"},
          "encoding": {"x": {"field": "year", "type": "quantitative"}, "y": {"field": "hi", "type": "quantitative"}}
        },
        {
          "data": {"name": "errB"},
          "mark": {"type": "tick", "orient": "horizontal", "size": 16, "thickness": 1.5, "color": "#222222"},
          "encoding": {"x": {"field": "year", "type": "quantitative"}, "y": {"field": "lo", "type": "quantitative"}}
        },
        {
          "data": {"name": "errB"},
          "mark": {"type": "tick", "orient": "horizontal", "size": 31, "thickness": 1.5, "color": "#222222"},
          "encoding": {"x": {"field": "year", "type": "quantitative"}, "y": {"field": "med", "type": "quantitative"}}
        },
        {
          "data": {"name": "ptsB"},
          "mark": {"type": "circle", "size": 45, "color": "#3a6fc8", "opacity": 1},
          "encoding": {"x": {"field": "x", "type": "quantitative"}, "y": {"field": "mr", "type": "quantitative"}}
        },
        {
          "data": {"name": "bracketB"},
          "mark": {"type": "rule", "color": "#222222", "strokeWidth": 1.5},
          "encoding": {"x": {"field": "x", "type": "quantitative"}, "x2": {"field": "x2"}, "y": {"field": "y", "type": "quantitative"}, "y2": {"field": "y2"}}
        },
        {
          "data": {"name": "starsB"},
          "mark": {"type": "text", "fontSize": 12, "fontWeight": "bold", "baseline": "alphabetic", "color": "#222222"},
          "encoding": {"x": {"field": "x", "type": "quantitative"}, "y": {"field": "y", "type": "quantitative"}, "text": {"field": "s"}}
        }
      ]
    },
    {
      "width": 274, "height": 159,
      "title": {"text": "D", "offset": -1},
      "layer": [
        {
          "data": {"values": [{}]},
          "mark": {"type": "rect", "color": "#e8e8ec"},
          "encoding": {"x": {"datum": 0.31}, "x2": {"datum": 5.69}, "y": {"datum": 6.25}, "y2": {"datum": 6.53}}
        },
        {
          "data": {"name": "levels"},
          "mark": {"type": "rule", "strokeDash": [1.5, 1.5], "color": "#333333", "strokeWidth": 1},
          "encoding": {"y": {"field": "mr", "type": "quantitative", "scale": {"domain": [3, 6.53], "nice": false, "zero": false, "reverse": true},
              "axis": {"values": [3, 4, 5, 6, 6.25], "tickCount": 20, "labelExpr": "datum.value == 3 ? 'MR³' : datum.value == 4 ? 'MR⁴' : datum.value == 5 ? 'MR⁵' : datum.value == 6 ? 'MR⁶' : 'MR⁶·²'", "labelColor": {"condition": {"test": "datum.value > 6.1", "value": "#f04e23"}, "value": "black"}, "labelFontSize": {"condition": {"test": "datum.value > 6.1", "value": 8.5}, "value": 10.5}, "labelOverlap": false, "labelPadding": 2, "ticks": true, "tickSize": 4, "tickColor": "black", "tickWidth": 1.2, "domainColor": "black", "domainWidth": 1.5, "grid": false, "minExtent": 28, "maxExtent": 28, "title": ["Log reduction in", "BCR-ABL1 DNA"], "titlePadding": 5, "titleY": 63, "titleLineHeight": 14}}}
        },
        {
          "data": {"values": [{}]},
          "mark": {"type": "rule", "strokeDash": [1.5, 1.5], "color": "#f0502a", "strokeWidth": 1},
          "encoding": {"y": {"datum": 6.25}}
        },
        {
          "data": {"name": "errD"},
          "mark": {"type": "rule", "color": "#222222", "strokeWidth": 1.5},
          "encoding": {"x": {"field": "year", "type": "quantitative", "scale": {"domain": [0.31, 5.69], "nice": false, "zero": false},
              "axis": {"values": [1, 2, 3, 4, 5], "tickCount": 20, "format": "d", "labelOverlap": false, "labelFlush": false, "tickSize": 4, "tickColor": "black", "tickWidth": 1.2, "domainColor": "black", "domainWidth": 1.5, "labelPadding": 2, "grid": false, "title": "Years on re-treatment  with TKI", "titlePadding": 11}},
            "y": {"field": "hi", "type": "quantitative"}, "y2": {"field": "lo"}}
        },
        {
          "data": {"name": "errD"},
          "mark": {"type": "tick", "orient": "horizontal", "size": 18, "thickness": 1.5, "color": "#222222"},
          "encoding": {"x": {"field": "year", "type": "quantitative"}, "y": {"field": "hi", "type": "quantitative"}}
        },
        {
          "data": {"name": "errD"},
          "mark": {"type": "tick", "orient": "horizontal", "size": 18, "thickness": 1.5, "color": "#222222"},
          "encoding": {"x": {"field": "year", "type": "quantitative"}, "y": {"field": "lo", "type": "quantitative"}}
        },
        {
          "data": {"name": "errD"},
          "mark": {"type": "tick", "orient": "horizontal", "size": 34, "thickness": 1.5, "color": "#222222"},
          "encoding": {"x": {"field": "year", "type": "quantitative"}, "y": {"field": "med", "type": "quantitative"}}
        },
        {
          "data": {"name": "ptsD"},
          "mark": {"type": "circle", "size": 45, "color": "#3a6fc8", "opacity": 1},
          "encoding": {"x": {"field": "x", "type": "quantitative"}, "y": {"field": "mr", "type": "quantitative"}}
        },
        {
          "data": {"name": "bracketD"},
          "mark": {"type": "rule", "color": "#222222", "strokeWidth": 1.5},
          "encoding": {"x": {"field": "x", "type": "quantitative"}, "x2": {"field": "x2"}, "y": {"field": "y", "type": "quantitative"}, "y2": {"field": "y2"}}
        },
        {
          "data": {"name": "starsD"},
          "mark": {"type": "text", "fontSize": 12, "fontWeight": "bold", "baseline": "alphabetic", "color": "#222222"},
          "encoding": {"x": {"field": "x", "type": "quantitative"}, "y": {"field": "y", "type": "quantitative"}, "text": {"field": "s"}}
        }
      ]
    }
  ]
}
